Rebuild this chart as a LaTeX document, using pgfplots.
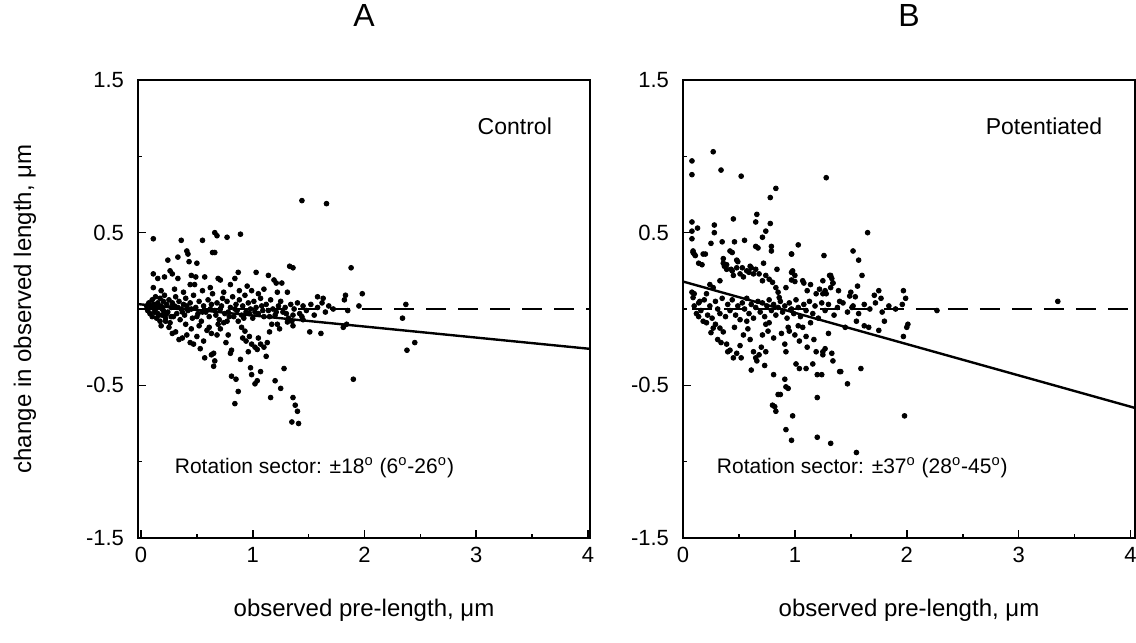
\documentclass[border=0pt]{standalone}
\usepackage{fontspec}
\setmainfont{Liberation Sans}
\usepackage{pgfplots}
\usepackage{pgfplotstable}
\pgfplotsset{compat=1.18}

\pgfplotstableread{
x y
1.44 0.71
1.66 0.69
0.11 0.46
0.36 0.45
0.55 0.45
0.66 0.50
0.68 0.48
0.77 0.47
0.89 0.49
0.64 0.37
0.66 0.37
0.41 0.38
0.42 0.36
0.24 0.32
0.33 0.34
0.43 0.31
0.50 0.30
1.33 0.28
1.36 0.27
1.88 0.27
0.11 0.23
0.15 0.20
0.21 0.21
0.26 0.25
0.28 0.23
0.33 0.20
0.45 0.22
0.49 0.21
0.57 0.21
0.69 0.20
0.71 0.19
0.87 0.24
0.84 0.20
1.03 0.24
1.14 0.22
1.19 0.19
1.21 0.17
1.26 0.17
0.11 0.14
0.44 0.16
0.48 0.16
0.80 0.16
1.98 0.10
1.83 0.09
1.82 0.06
1.58 0.08
1.63 0.07
1.31 0.11
1.22 0.11
1.10 0.13
0.99 0.12
0.88 0.12
0.55 0.12
0.18 0.12
0.30 0.13
0.38 0.11
0.62 0.14
0.74 0.11
0.95 0.15
1.05 0.10
0.05 0.02
0.06 -0.01
0.07 0.04
0.08 -0.03
0.09 0.01
0.10 0.06
0.10 -0.05
0.11 0.03
0.12 -0.02
0.13 0.08
0.13 0.00
0.14 -0.06
0.15 0.04
0.15 -0.03
0.16 0.01
0.17 0.07
0.17 -0.08
0.18 0.02
0.19 -0.04
0.20 0.05
0.20 -0.01
0.21 0.09
0.22 -0.06
0.23 0.03
0.24 -0.02
0.25 0.06
0.26 -0.09
0.27 0.01
0.28 0.04
0.29 -0.05
0.30 0.02
0.31 0.08
0.32 -0.03
0.34 0.05
0.35 -0.07
0.36 0.00
0.38 0.03
0.39 -0.04
0.40 0.07
0.42 -0.01
0.44 0.04
0.46 -0.06
0.47 0.09
0.49 0.01
0.51 -0.03
0.52 0.05
0.54 -0.08
0.56 0.02
0.58 -0.02
0.60 0.06
0.61 -0.05
0.63 0.03
0.64 0.10
0.66 -0.01
0.68 0.04
0.70 -0.07
0.72 0.02
0.73 0.07
0.75 -0.03
0.77 0.05
0.78 -0.02
0.80 0.01
0.82 0.08
0.83 -0.05
0.85 0.03
0.86 -0.01
0.88 0.06
0.90 -0.04
0.91 0.02
0.93 0.09
0.94 -0.02
0.96 0.04
0.98 0.00
1.00 -0.06
1.01 0.05
1.03 0.01
1.05 -0.03
1.07 0.07
1.08 0.02
1.10 -0.05
1.12 0.03
1.14 -0.01
1.16 0.06
1.18 0.00
1.20 -0.04
1.23 0.02
1.25 0.05
1.27 -0.02
1.29 0.01
1.32 -0.06
1.34 0.03
1.37 0.00
1.40 0.04
1.42 -0.03
1.45 0.02
1.48 -0.01
1.52 0.03
1.55 -0.04
1.58 0.01
1.62 0.04
1.65 -0.02
1.68 0.02
1.72 0.00
1.85 -0.01
1.95 0.02
2.37 0.03
0.22 -0.08
0.28 -0.16
0.31 -0.15
0.37 -0.19
0.34 -0.20
0.41 -0.17
0.44 -0.22
0.47 -0.23
0.50 -0.18
0.53 -0.26
0.56 -0.21
0.57 -0.32
0.63 -0.30
0.65 -0.29
0.66 -0.34
0.65 -0.375
0.61 -0.12
0.59 -0.14
0.63 -0.16
0.68 -0.17
0.71 -0.13
0.74 -0.09
0.77 -0.08
0.78 -0.17
0.81 -0.27
0.80 -0.29
0.81 -0.44
0.85 -0.46
0.87 -0.54
0.84 -0.62
0.87 -0.08
0.90 -0.12
0.93 -0.145
0.91 -0.19
0.94 -0.21
0.97 -0.18
0.99 -0.23
0.96 -0.28
1.04 -0.265
1.02 -0.25
1.05 -0.19
1.07 -0.23
0.98 -0.385
0.99 -0.43
1.07 -0.41
1.04 -0.47
1.02 -0.49
1.10 -0.25
1.12 -0.31
1.13 -0.22
1.15 -0.15
1.16 -0.58
1.20 -0.47
1.25 -0.52
1.28 -0.39
1.22 -0.10
1.24 -0.13
1.31 -0.085
1.35 -0.08
1.36 -0.11
1.51 -0.15
1.61 -0.16
1.36 -0.58
1.38 -0.63
1.40 -0.67
1.35 -0.74
1.41 -0.75
1.81 -0.12
1.84 -0.10
1.90 -0.46
2.34 -0.06
2.38 -0.27
2.45 -0.22
0.18 -0.11
0.25 -0.12
0.40 -0.10
0.45 -0.13
0.52 -0.11
0.69 -0.10
0.76 -0.22
0.89 -0.33
1.17 -0.10
1.45 -0.07
0.12 0.01
0.14 0.03
0.16 -0.04
0.19 0.00
0.23 -0.03
0.27 -0.05
0.33 0.01
0.37 -0.02
0.41 0.02
0.45 0.00
0.50 -0.05
0.55 -0.02
0.62 0.00
0.67 -0.04
0.71 0.00
0.79 -0.05
0.84 0.00
0.92 -0.06
0.97 -0.03
1.02 -0.02
1.09 -0.01
1.15 -0.05
1.21 -0.02
1.30 -0.03
1.36 -0.04
1.44 -0.05
}\dataA

\pgfplotstableread{
x y
0.08 0.97
0.08 0.88
0.27 1.03
0.34 0.91
0.52 0.87
1.28 0.86
0.83 0.79
0.78 0.73
0.45 0.59
0.66 0.62
0.78 0.56
0.65 0.57
0.08 0.57
0.13 0.53
0.08 0.51
0.08 0.46
0.28 0.55
0.28 0.50
0.25 0.43
0.35 0.44
0.46 0.44
0.55 0.45
0.65 0.41
0.67 0.40
0.74 0.51
0.71 0.47
0.79 0.41
0.79 0.38
1.03 0.42
0.97 0.36
1.26 0.35
1.52 0.38
1.57 0.32
1.65 0.50
1.60 0.22
1.56 0.15
0.09 0.38
0.10 0.36
0.11 0.35
0.20 0.36
0.14 0.30
0.17 0.29
0.36 0.30
0.37 0.28
0.39 0.26
0.44 0.37
0.48 0.32
0.49 0.31
0.45 0.22
0.44 0.25
0.53 0.27
0.59 0.24
0.61 0.27
0.63 0.23
0.72 0.30
0.84 0.26
0.97 0.24
0.97 0.19
1.00 0.18
1.08 0.17
1.32 0.22
1.33 0.20
1.34 0.17
1.27 0.12
1.25 0.10
1.39 0.12
1.50 0.11
1.54 0.08
1.75 0.12
1.71 0.09
1.77 0.07
1.97 0.12
1.99 0.07
0.09 0.37
0.18 0.36
0.42 0.38
0.36 0.33
0.39 0.29
0.43 0.26
0.48 0.27
0.51 0.23
0.54 0.21
0.57 0.25
0.60 0.28
0.65 0.26
0.68 0.23
0.71 0.185
0.74 0.22
0.77 0.195
0.80 0.175
0.83 0.14
0.85 0.11
0.86 0.075
0.92 0.14
0.97 0.36
0.98 0.25
1.00 0.22
1.07 0.185
1.11 0.12
1.14 0.16
1.19 0.10
1.22 0.13
1.25 0.185
1.28 0.10
1.31 0.22
1.32 0.14
1.34 0.17
1.40 0.05
1.49 0.085
1.51 0.01
0.08 0.11
0.09 0.075
0.10 0.10
0.15 0.05
0.21 0.10
0.27 0.14
0.33 0.185
0.24 0.16
0.10 0.02
0.12 -0.03
0.14 0.04
0.16 -0.01
0.19 0.06
0.22 -0.04
0.24 0.02
0.26 -0.06
0.29 0.05
0.31 0.00
0.33 -0.03
0.35 0.07
0.38 -0.05
0.40 0.03
0.42 -0.01
0.44 0.06
0.47 -0.04
0.49 0.02
0.51 -0.07
0.53 0.04
0.55 0.00
0.57 0.07
0.59 -0.03
0.61 0.03
0.63 -0.06
0.65 0.01
0.67 0.05
0.69 -0.02
0.71 0.04
0.73 -0.05
0.75 0.02
0.77 0.06
0.79 -0.01
0.81 0.03
0.83 -0.04
0.85 0.01
0.87 0.05
0.89 -0.02
0.91 0.02
0.93 -0.06
0.95 0.04
0.97 0.00
0.99 -0.03
1.01 0.06
1.03 0.01
1.05 -0.05
1.08 0.03
1.10 -0.01
1.13 0.05
1.16 -0.03
1.18 0.02
1.21 -0.06
1.24 0.04
1.27 -0.01
1.30 0.03
1.35 -0.04
1.38 0.01
1.43 0.04
1.47 -0.02
1.52 0.02
1.57 -0.03
1.62 0.03
1.67 0.00
1.72 0.04
1.78 -0.02
1.84 0.02
1.90 0.00
1.96 0.03
2.27 -0.01
3.35 0.05
0.18 -0.08
0.21 -0.09
0.27 -0.125
0.25 -0.155
0.33 -0.125
0.36 -0.15
0.31 -0.20
0.34 -0.22
0.39 -0.23
0.42 -0.27
0.40 -0.28
0.45 -0.32
0.48 -0.29
0.51 -0.24
0.52 -0.32
0.57 -0.08
0.58 -0.13
0.60 -0.20
0.63 -0.28
0.65 -0.32
0.66 -0.34
0.61 -0.40
0.68 -0.30
0.70 -0.25
0.74 -0.28
0.73 -0.37
0.71 -0.17
0.74 -0.10
0.77 -0.09
0.76 -0.145
0.81 -0.19
0.81 -0.43
0.91 -0.23
0.92 -0.28
0.94 -0.12
0.95 -0.145
1.00 -0.17
1.03 -0.11
1.04 -0.21
1.07 -0.12
1.10 -0.18
1.11 -0.25
1.17 -0.20
1.19 -0.28
1.01 -0.36
1.04 -0.39
1.10 -0.39
1.16 -0.36
1.20 -0.43
1.25 -0.30
1.40 -0.41
1.47 -0.49
0.91 -0.46
0.92 -0.51
0.94 -0.52
0.85 -0.56
0.82 -0.64
0.83 -0.67
0.80 -0.63
0.87 -0.56
0.98 -0.70
0.92 -0.79
0.97 -0.86
1.20 -0.84
1.32 -0.88
1.55 -0.94
1.20 -0.58
1.34 -0.34
1.27 -0.26
1.59 -0.39
1.41 -0.41
1.24 -0.43
1.98 -0.70
1.75 -0.14
1.80 -0.08
1.97 -0.18
2.01 -0.10
2.00 -0.12
1.62 -0.11
1.66 -0.12
1.45 -0.12
1.55 -0.08
1.33 -0.29
1.25 -0.28
0.14 -0.05
0.29 -0.10
0.46 -0.12
0.54 -0.17
0.88 -0.16
1.14 -0.09
1.30 -0.16
}\dataB

\begin{document}
\begin{tikzpicture}
\useasboundingbox (0,0) rectangle (568pt,321.5pt);
\pgfplotsset{
  panel/.style={
    scale only axis, width=226pt, height=229pt, clip=false,
    ymin=-1.5, ymax=1.5,
    xtick={0,1,2,3,4}, xticklabels={0,1,2,3,4},
    minor xtick={0.5,1.5,2.5,3.5},
    ytick={-1.5,-0.5,0.5,1.5}, yticklabels={-1.5,-0.5,0.5,1.5},
    minor ytick={-1,0,1},
    tick align=inside, tick pos=left,
    major tick length=4pt, minor tick length=2pt,
    axis line style={line width=1.1pt},
    every tick/.style={black, line width=0.8pt},
    tick label style={font=\fontsize{11}{13}\selectfont},
    yticklabel style={xshift=-3.5pt},
    xticklabel style={yshift=-1pt},
    xlabel style={font=\fontsize{12}{14}\selectfont, at={(axis description cs:0.5,-0.157)}, anchor=center},
    xlabel={observed pre-length, μm},
  },
  dots/.style={only marks, mark=*, mark size=1.2pt, black},
}
\begin{axis}[panel, at={(69pt,52.5pt)}, xmin=-0.027, xmax=4.018,
  ylabel={change in observed length, μm},
  ylabel style={font=\fontsize{12}{14}\selectfont, at={(axis description cs:-0.25,0.5)}, anchor=center}]
  \addplot[dots] table[x=x,y=y]{\dataA};
  \addplot[black, line width=1pt, dash pattern=on 10pt off 6pt] coordinates {(-0.027,0) (4.018,0)};
  \addplot[black, line width=1.2pt] coordinates {(-0.027,0.032) (4.018,-0.261)};
  \node[font=\fontsize{16}{18}\selectfont] at (axis description cs:0.5,1.14) {A};
  \node[anchor=east, font=\fontsize{11.5}{13}\selectfont] at (axis cs:3.74,1.2) {Control};
  \node[anchor=west, font=\fontsize{10.5}{12}\selectfont] at (axis cs:0.24,-1.04) {Rotation sector: ±18\textsuperscript{o} (6\textsuperscript{o}-26\textsuperscript{o})};
\end{axis}
\begin{axis}[panel, at={(341.5pt,52.5pt)}, xmin=0, xmax=4.04]
  \addplot[dots] table[x=x,y=y]{\dataB};
  \addplot[black, line width=1pt, dash pattern=on 10pt off 6pt] coordinates {(0.08,0) (4.04,0)};
  \addplot[black, line width=1.2pt] coordinates {(0,0.18) (4.04,-0.648)};
  \node[font=\fontsize{16}{18}\selectfont] at (axis description cs:0.5,1.14) {B};
  \node[anchor=east, font=\fontsize{11.5}{13}\selectfont] at (axis cs:3.81,1.2) {Potentiated};
  \node[anchor=west, font=\fontsize{10.5}{12}\selectfont] at (axis cs:0.24,-1.04) {Rotation sector: ±37\textsuperscript{o} (28\textsuperscript{o}-45\textsuperscript{o})};
\end{axis}
\end{tikzpicture}
\end{document}
